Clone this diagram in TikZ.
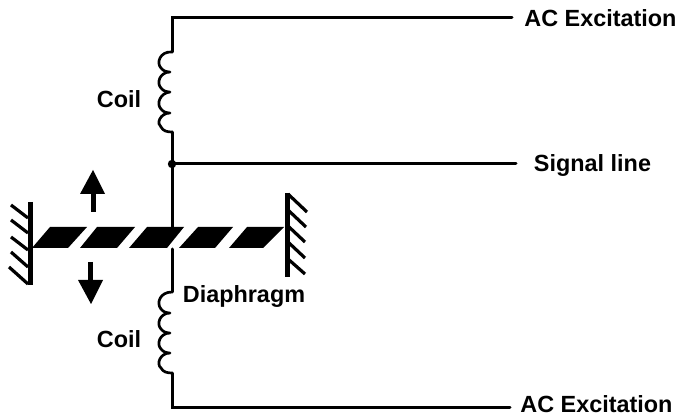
\documentclass[tikz,border=0pt]{standalone}
\usepackage{fontspec}
\setmainfont{Liberation Sans}
\tikzset{
  wire/.style={line width=3pt,line cap=round,line join=miter},
  coilwire/.style={line width=2.7pt,line join=round},
  lab/.style={font=\bfseries\fontsize{23.4}{26}\selectfont,inner sep=0pt,anchor=center},
  slab/.style={fill=black,draw=none},
  wallline/.style={line width=5pt},
  hatch/.style={line width=3.2pt},
  motion/.style={line width=5pt}
}
\begin{document}
\begin{tikzpicture}[x=1pt,y=-1pt]
\useasboundingbox (0,0) rectangle (678,414);
% labels
\node[lab] (ac1) at (600.5,18.5) {AC Excitation};
\node[lab] (sig) at (592.5,165.5) {Signal line};
\node[lab] (ac2) at (596.5,404.5) {AC Excitation};
\node[lab] (coil1) at (119,99) {Coil};
\node[lab] (coil2) at (119,339) {Coil};
\node[lab] (dia) at (244,297) {Diaphragm};
% anchors
\coordinate (t0) at (172,18);
\coordinate (t1) at (512,18);
\coordinate (c1a) at (172,52);
\coordinate (c1b) at (172,132);
\coordinate (j) at (172,164);
\coordinate (s1) at (516,164);
\coordinate (d0) at (172,227);
\coordinate (d1) at (172,249);
\coordinate (c2a) at (172,292);
\coordinate (c2b) at (172,373);
\coordinate (b0) at (172,407);
\coordinate (b1) at (510,407);
% wires
\draw[wire] (t1) -- (t0) -- (c1a);
\draw[wire] (c1b) -- (j) -- (d0);
\draw[wire] (j) -- (s1);
\draw[wire] (d1) -- (c2a);
\draw[wire] (c2b) -- (b0) -- (b1);
\fill (j) circle (4.2);
% coils
\draw[coilwire] (c1a) .. controls (160,51) and (156,63) .. (161,68)
  .. controls (163,71) and (167,72) .. (170,72)
  .. controls (160,72) and (156,83) .. (161,88)
  .. controls (163,91) and (167,92) .. (170,92)
  .. controls (160,93) and (156,104) .. (161,109)
  .. controls (163,112) and (167,113) .. (170,113)
  .. controls (160,113) and (156,124) .. (161,127)
  .. controls (163,131) and (167,132) .. (c1b);
\draw[coilwire] (c2a) .. controls (160,292) and (156,303) .. (161,309)
  .. controls (163,312) and (167,313) .. (170,313)
  .. controls (160,313) and (156,324) .. (161,329)
  .. controls (163,332) and (167,333) .. (170,333)
  .. controls (160,333) and (156,344) .. (161,349)
  .. controls (163,352) and (167,353) .. (170,353)
  .. controls (160,353) and (156,364) .. (161,368)
  .. controls (163,372) and (167,373) .. (c2b);
% diaphragm
\fill[slab] (32,248) -- (50,227) -- (87,227) -- (68,248) -- cycle;
\fill[slab] (80,248) -- (97,227) -- (135,227) -- (117,248) -- cycle;
\fill[slab] (129,248) -- (147,227) -- (184,227) -- (167,248) -- cycle;
\fill[slab] (179,248) -- (198,227) -- (233,227) -- (215,248) -- cycle;
\fill[slab] (229,248) -- (247,227) -- (284,227) -- (263,248) -- cycle;
% left wall
\draw[wallline] (30,202) -- (30,285);
\draw[hatch] (28,218) -- (11,205);
\draw[hatch] (28,233) -- (11,220);
\draw[hatch] (28,250) -- (11,237);
\draw[hatch] (28,267) -- (11,252);
\draw[hatch] (28,284) -- (9,267);
% right wall
\draw[wallline] (287,193) -- (287,277);
\draw[hatch] (288,194) -- (307,212);
\draw[hatch] (288,210) -- (306,227);
\draw[hatch] (288,226) -- (305,242);
\draw[hatch] (288,242) -- (305,258);
\draw[hatch] (288,259) -- (305,274);
% motion arrows
\draw[motion] (93,212) -- (93,190);
\fill (93,170) -- (105,194) -- (80,194) -- cycle;
\draw[motion] (90.5,262) -- (90.5,284);
\fill (91,304) -- (103,280) -- (78,280) -- cycle;
\end{tikzpicture}
\end{document}
